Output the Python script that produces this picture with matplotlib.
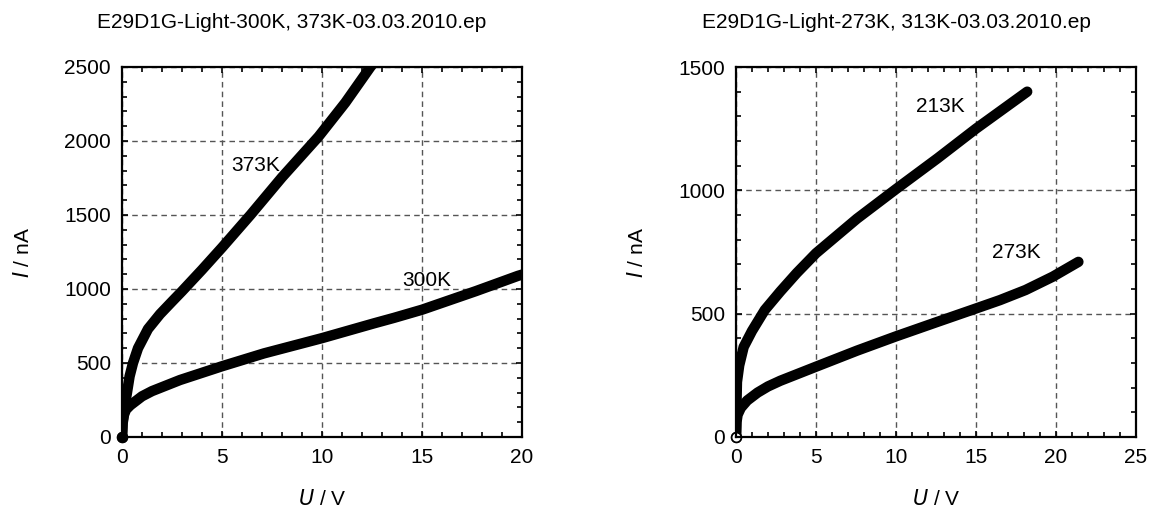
import matplotlib
matplotlib.use("Agg")
import matplotlib.pyplot as plt
from matplotlib.ticker import MultipleLocator

plt.rcParams["font.family"] = ["Liberation Sans", "DejaVu Sans"]

# links: 300K / 373K
u_373 = [0.0, 0.03, 0.1, 0.25, 0.38, 0.55, 0.8, 1.3, 1.9, 2.5, 3.0, 4.0, 5.0, 6.42, 8.0, 9.83, 11.17, 12.42, 13.0]
i_373 = [0, 100, 180, 300, 410, 500, 600, 730, 830, 915, 985, 1130, 1280, 1500, 1755, 2030, 2260, 2500, 2600]
u_300 = [0.0, 0.03, 0.1, 0.2, 0.42, 1.0, 1.5, 2.9, 5.0, 7.1, 10.0, 12.6, 13.6, 15.0, 17.7, 19.8, 20.2]
i_300 = [0, 90, 150, 185, 215, 275, 310, 385, 478, 565, 668, 768, 805, 860, 986, 1089, 1105]

# rechts: 213K / 273K
u_213 = [0.0, 0.03, 0.06, 0.2, 0.48, 1.0, 1.8, 2.77, 3.8, 5.0, 7.56, 10.0, 12.6, 15.0, 18.2]
i_213 = [0, 130, 223, 290, 365, 430, 515, 590, 665, 745, 885, 1005, 1130, 1250, 1400]
u_273 = [0.0, 0.03, 0.1, 0.3, 0.7, 1.35, 2.0, 2.77, 5.0, 7.56, 10.0, 12.6, 15.0, 16.5, 18.1, 19.8, 21.4]
i_273 = [0, 60, 90, 118, 148, 180, 205, 228, 285, 350, 408, 467, 521, 555, 596, 650, 710]

titel_links = "E29D1G-Light-300K, 373K-03.03.2010.ep"
titel_rechts = "E29D1G-Light-273K, 313K-03.03.2010.ep"

fig = plt.figure(figsize=(11.6, 5.16), dpi=100)
ax1 = fig.add_axes([122 / 1160, 79 / 516, 400 / 1160, 370 / 516])
ax2 = fig.add_axes([736 / 1160, 79 / 516, 400 / 1160, 370 / 516])


def style(ax, xmax, ymax, ystep):
    ax.set_xlim(0, xmax)
    ax.set_ylim(0, ymax)
    ax.xaxis.set_major_locator(MultipleLocator(5))
    ax.xaxis.set_minor_locator(MultipleLocator(1))
    ax.yaxis.set_major_locator(MultipleLocator(ystep))
    ax.yaxis.set_minor_locator(MultipleLocator(100))
    ax.tick_params(which="both", direction="in", top=True, right=True,
                   labelsize=15, pad=8, width=1.2)
    ax.tick_params(which="major", length=4)
    ax.tick_params(which="minor", length=3.5)
    ax.grid(True, which="major", linestyle=(0, (4, 3)), color="#555555", linewidth=1)
    ax.set_axisbelow(True)
    for s in ax.spines.values():
        s.set_linewidth(1.6)
    ax.set_xlabel(r"$\it{U}$ / V", fontsize=15, labelpad=16)
    ax.set_ylabel(r"$\it{I}$ / nA", fontsize=15, labelpad=22)


def kurve(ax, u, i, filled=True):
    ax.plot(u, i, color="black", linewidth=7.5, solid_capstyle="round",
            solid_joinstyle="round")
    ax.plot(u[0], i[0], "o", ms=7, mec="black", mfc="black" if filled else "white",
            mew=1.2, clip_on=False)


kurve(ax1, u_373, i_373)
kurve(ax1, u_300, i_300)
style(ax1, 20, 2500, 500)
ax1.text(6.7, 1835, "373K", fontsize=15, ha="center", va="center")
ax1.text(15.25, 1055, "300K", fontsize=15, ha="center", va="center")

kurve(ax2, u_213, i_213)
kurve(ax2, u_273, i_273, filled=False)
style(ax2, 25, 1500, 500)
ax2.text(12.8, 1340, "213K", fontsize=15, ha="center", va="center")
ax2.text(17.5, 747, "273K", fontsize=15, ha="center", va="center")

fig.text(292 / 1160, 1 - 22 / 516, titel_links, fontsize=15, ha="center", va="center")
fig.text(896 / 1160, 1 - 22 / 516, titel_rechts, fontsize=15, ha="center", va="center")

fig.savefig("out.png", dpi=100)
